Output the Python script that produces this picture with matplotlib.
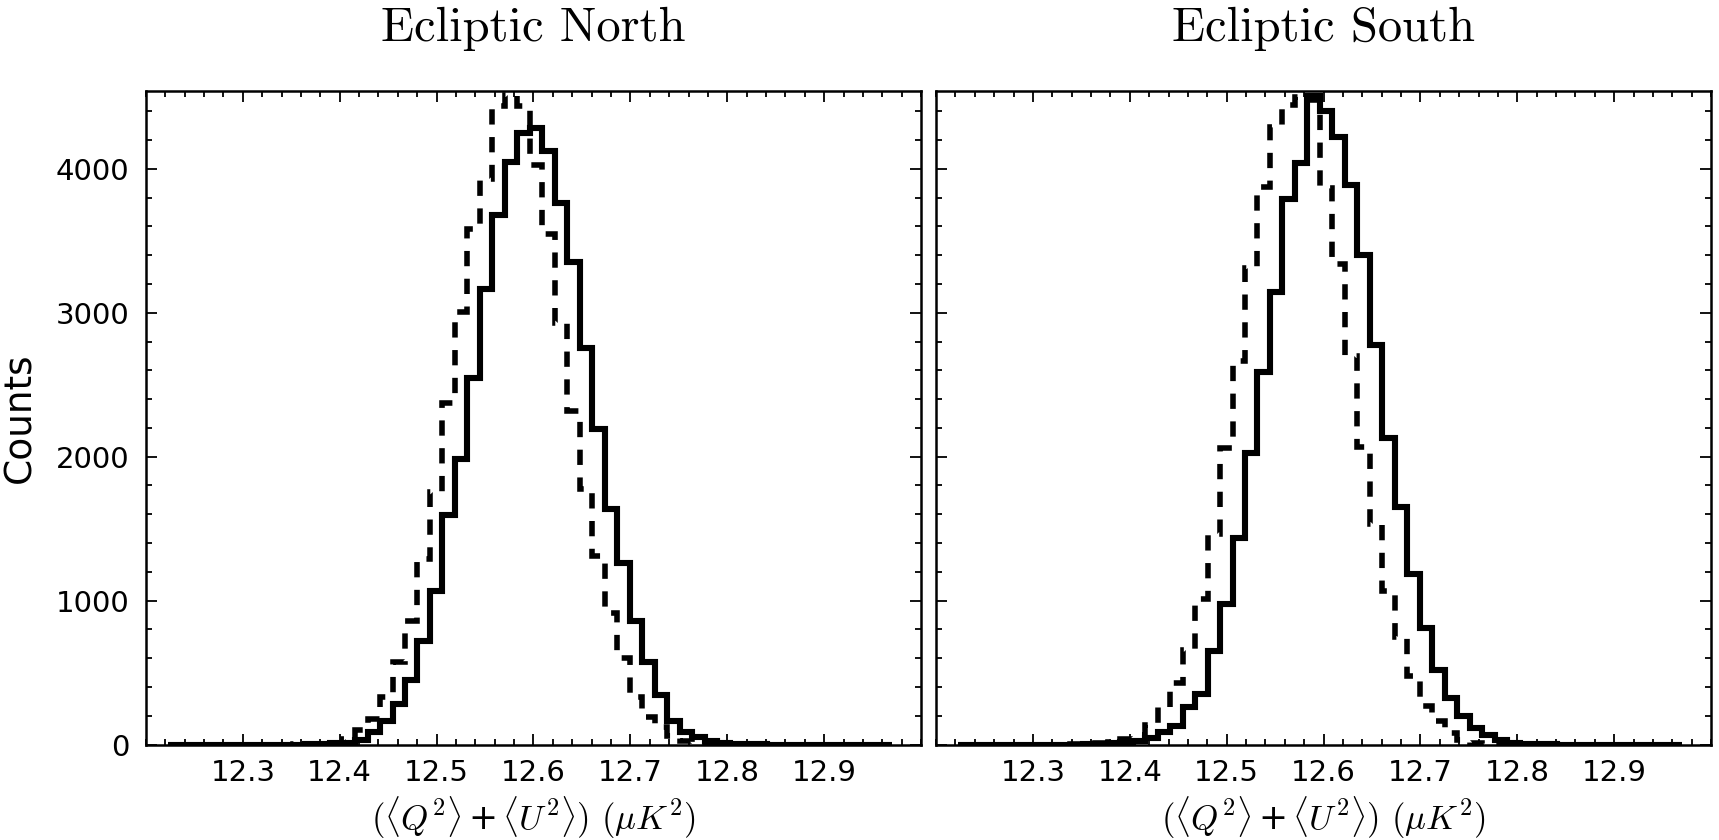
import numpy as np
import matplotlib
matplotlib.use("Agg")
import matplotlib.pyplot as plt
from matplotlib.ticker import MultipleLocator, FixedLocator

plt.rcParams['font.family'] = ['DejaVu Sans']
plt.rcParams['mathtext.fontset'] = 'cm'
plt.rcParams['lines.scale_dashes'] = False

# histogram bins (shared by all four curves)
bin_lo, bin_hi, n_bins = 12.2225, 12.970, 58
edges = np.linspace(bin_lo, bin_hi, n_bins + 1)

north_solid = [0] * 10 + [
    1, 3, 6, 10, 15, 30, 90, 165, 285, 450, 720, 1067, 1593, 1984, 2550,
    3165, 3680, 4045, 4246, 4285, 4122, 3763, 3353, 2753, 2194, 1638, 1262,
    857, 571, 346, 165, 90, 50, 24, 15, 8, 4, 2, 1] + [0] * 9
north_dashed = [0] * 10 + [
    2, 4, 8, 15, 40, 105, 180, 330, 571, 857, 1292, 1758, 2374, 3008, 3581,
    3926, 4436, 4510, 4436, 4025, 3544, 2928, 2314, 1773, 1307, 917, 601,
    331, 195, 120, 60, 24, 9, 4, 2, 1] + [0] * 12
south_solid = [0] * 10 + [
    2, 5, 10, 18, 25, 45, 85, 130, 260, 352, 652, 979, 1436, 2024, 2585,
    3141, 3788, 4038, 4508, 4398, 4220, 3887, 3404, 2776, 2130, 1651, 1187,
    808, 520, 325, 200, 115, 64, 32, 15, 8, 4, 2, 1] + [0] * 9
south_dashed = [0] * 9 + [
    2, 4, 10, 20, 42, 70, 140, 262, 425, 660, 1010, 1463, 2060, 2665, 3312,
    3870, 4288, 4445, 4495, 4480, 3866, 3335, 2700, 2065, 1530, 1065, 745,
    476, 266, 162, 78, 33, 11, 4, 2] + [0] * 14

titles = ["Ecliptic North", "Ecliptic South"]
panels = [(north_solid, north_dashed), (south_solid, south_dashed)]
xticks = [12.3, 12.4, 12.5, 12.6, 12.7, 12.8, 12.9]
yticks = [0, 1000, 2000, 3000, 4000]
xlabel = r'$(\langle Q^2\rangle\,$+$\,\langle U^2\rangle)$ $(\mu K^2)$'

fig = plt.figure(figsize=(17.19, 8.4), dpi=100)
ax1 = fig.add_axes([0.0849, 0.1135, 0.4509, 0.7782])
ax2 = fig.add_axes([0.5445, 0.1135, 0.4509, 0.7782])

for ax, title, (solid, dashed) in zip([ax1, ax2], titles, panels):
    ax.stairs(solid, edges, color='black', linewidth=4.4, fill=False)
    ax.stairs(dashed, edges, color='black', linewidth=4.0, fill=False,
              linestyle=(0, (11, 9)))
    ax.set_xlim(12.2, 13.0)
    ax.set_ylim(0, 4540)
    ax.xaxis.set_major_locator(FixedLocator(xticks))
    ax.xaxis.set_minor_locator(MultipleLocator(0.02))
    ax.yaxis.set_major_locator(FixedLocator(yticks))
    ax.yaxis.set_minor_locator(MultipleLocator(200))
    ax.tick_params(which='both', direction='in', top=True, right=True,
                   labelsize=21, width=1.3)
    ax.tick_params(which='major', length=8)
    ax.tick_params(which='minor', length=4)
    ax.tick_params(axis='x', pad=10)
    ax.tick_params(axis='y', pad=12)
    for sp in ax.spines.values():
        sp.set_linewidth(1.8)
    ax.set_title(title, fontfamily='cmr10', fontsize=35, pad=36)
    ax.set_xlabel(xlabel, fontsize=25, labelpad=6)

ax1.set_ylabel('Counts', fontsize=27, labelpad=12)
ax2.tick_params(labelleft=False)

fig.savefig('out.png', dpi=100)
